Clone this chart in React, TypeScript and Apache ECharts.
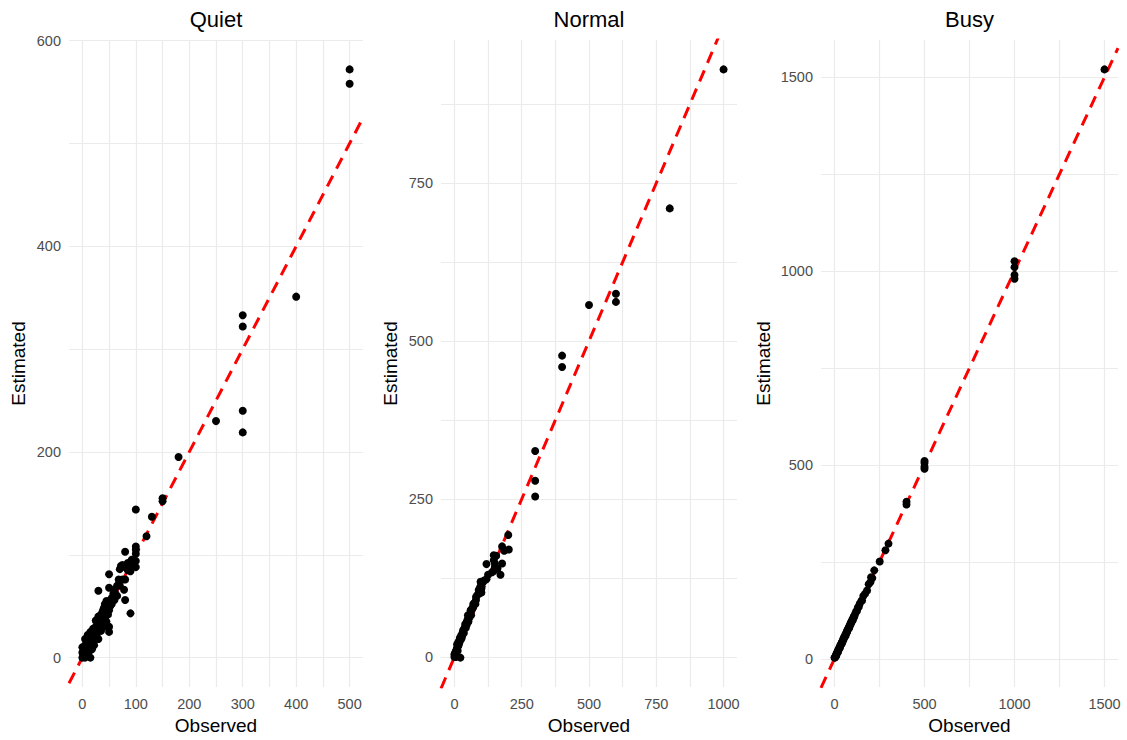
import React, { useEffect, useRef } from "react";
import * as echarts from "echarts";

const panelTitles = ["Quiet", "Normal", "Busy"];

const quietObserved = [0, 0, 0, 2, 3, 5, 5, 5, 6, 8, 8, 10, 10, 10, 12, 12, 15, 15, 15, 18, 18, 20, 20, 20, 22, 22, 25, 25, 25, 27, 28, 30, 30, 30, 30, 32, 33, 35, 35, 35, 38, 38, 40, 40, 40, 42, 42, 45, 45, 45, 48, 48, 50, 50, 50, 50, 50, 50, 52, 55, 55, 58, 60, 60, 62, 65, 65, 68, 70, 70, 72, 75, 75, 78, 80, 80, 80, 80, 85, 85, 90, 90, 92, 95, 100, 100, 100, 100, 100, 100, 120, 130, 150, 150, 180, 250, 300, 300, 300, 300, 400, 500, 500];
const quietEstimated = [0, 5, 10, 2, 8, 0, 12, 18, 4, 8, 15, 2, 10, 22, 18, 6, 0, 12, 25, 20, 8, 15, 28, 22, 12, 26, 20, 30, 36, 23, 26, 18, 32, 40, 65, 28, 36, 35, 42, 26, 32, 45, 40, 30, 48, 38, 52, 45, 35, 55, 30, 42, 55, 46, 81, 68, 30, 25, 50, 58, 52, 62, 56, 66, 62, 70, 60, 76, 86, 70, 89, 76, 90, 66, 56, 103, 88, 76, 85, 92, 43, 84, 95, 90, 105, 101, 94, 88, 144, 108, 118, 137, 155, 152, 195, 230, 333, 322, 240, 219, 351, 572, 558];

const normalObserved = [0, 0, 2, 3, 5, 5, 8, 10, 10, 12, 15, 15, 18, 20, 20, 22, 25, 25, 28, 30, 30, 32, 35, 35, 38, 40, 40, 42, 45, 45, 48, 50, 50, 52, 55, 55, 58, 60, 60, 62, 65, 68, 70, 70, 72, 75, 78, 80, 80, 85, 90, 90, 95, 97, 100, 100, 100, 105, 110, 119, 119, 125, 140, 146, 146, 146, 150, 150, 155, 160, 171, 177, 177, 185, 200, 202, 300, 300, 300, 400, 400, 500, 600, 600, 800, 1000];
const normalEstimated = [0, 4, 6, 2, 9, 0, 12, 15, 20, 10, 18, 24, 22, 26, 30, -1, 28, 34, 32, 38, 35, 42, 44, 38, 46, 48, 52, 46, 55, 50, 58, 60, 66, 56, 65, 62, 68, 70, 74, 66, 76, 78, 80, 84, 84, 86, 84, 90, 95, 98, 100, 106, 110, 119, 102, 108, 115, 118, 121, 123, 147, 130, 134, 136, 153, 161, 142, 148, 160, 140, 130, 148, 175, 168, 193, 170, 326, 279, 254, 477, 459, 557, 575, 562, 710, 930];

const busyObserved = [0, 2, 5, 8, 10, 12, 15, 18, 20, 22, 25, 28, 30, 32, 35, 38, 40, 42, 45, 48, 50, 52, 55, 58, 60, 62, 65, 68, 70, 72, 75, 78, 80, 82, 85, 88, 90, 92, 95, 98, 100, 102, 105, 108, 110, 115, 120, 125, 130, 135, 140, 150, 153, 160, 170, 181, 190, 200, 203, 210, 221, 251, 283, 300, 400, 400, 500, 500, 500, 500, 1000, 1000, 1000, 1000, 1500];
const busyEstimated = [3, 3, 5, 10, 8, 14, 15, 20, 18, 24, 25, 30, 28, 34, 36, 38, 42, 40, 46, 50, 49, 54, 56, 58, 62, 60, 66, 70, 69, 74, 76, 78, 82, 80, 86, 90, 89, 94, 96, 98, 102, 100, 106, 110, 109, 116, 122, 124, 132, 134, 142, 150, 150, 162, 168, 176, 192, 198, 210, 208, 228, 251, 280, 297, 405, 398, 510, 505, 495, 490, 1025, 1010, 990, 980, 1520];

const quietXTicks = [0, 100, 200, 300, 400, 500];
const quietXGrid = [0, 50, 100, 150, 200, 250, 300, 350, 400, 450, 500];
const quietYTicks = [0, 200, 400, 600];
const quietYGrid = [0, 100, 200, 300, 400, 500, 600];

const normalXTicks = [0, 250, 500, 750, 1000];
const normalXGrid = [0, 125, 250, 375, 500, 625, 750, 875, 1000];
const normalYTicks = [0, 250, 500, 750];
const normalYGrid = [0, 125, 250, 375, 500, 625, 750, 875];

const busyXTicks = [0, 500, 1000, 1500];
const busyXGrid = [0, 250, 500, 750, 1000, 1250, 1500];
const busyYTicks = [0, 500, 1000, 1500];
const busyYGrid = [0, 250, 500, 750, 1000, 1250, 1500];

const panels = [
  { obs: quietObserved, est: quietEstimated, xTicks: quietXTicks, xGrid: quietXGrid, yTicks: quietYTicks, yGrid: quietYGrid },
  { obs: normalObserved, est: normalEstimated, xTicks: normalXTicks, xGrid: normalXGrid, yTicks: normalYTicks, yGrid: normalYGrid },
  { obs: busyObserved, est: busyEstimated, xTicks: busyXTicks, xGrid: busyXGrid, yTicks: busyYTicks, yGrid: busyYGrid },
];

const FONT = "'Liberation Sans', Arial, Helvetica, sans-serif";
const gridLefts = [69, 441, 821];
const gridWidths = [294, 296, 297];
const yNameGaps = [41, 41, 48];

function expand(vals: number[]) {
  const lo = Math.min(...vals);
  const hi = Math.max(...vals);
  const pad = (hi - lo) * 0.05;
  return [lo - pad, hi + pad];
}

export default function App() {
  const ref = useRef<HTMLDivElement>(null);
  useEffect(() => {
    document.body.style.margin = "0";
    const chart = echarts.init(ref.current!, null, { renderer: "svg" });
    const grid: any[] = [];
    const xAxis: any[] = [];
    const yAxis: any[] = [];
    const series: any[] = [];
    const graphic: any[] = [];
    const fmt = (v: number) => String(v);
    panels.forEach((p, i) => {
      const [x0, x1] = expand(p.obs);
      const [y0, y1] = expand(p.est);
      grid.push({ left: gridLefts[i], width: gridWidths[i], top: 40, height: 647 });
      const gridLine = { show: true, lineStyle: { color: "#ebebeb", width: 1.2 } };
      xAxis.push({
        type: "value", gridIndex: i, min: x0, max: x1,
        axisLine: { show: false },
        axisTick: { show: false, customValues: p.xGrid },
        splitLine: gridLine,
        axisLabel: { customValues: p.xTicks, formatter: fmt, color: "#4d4d4d", fontSize: 14.5, fontFamily: FONT, margin: 9 },
        name: "Observed", nameLocation: "middle", nameGap: 23,
        nameTextStyle: { color: "#000", fontSize: 19, fontFamily: FONT },
      });
      yAxis.push({
        type: "value", gridIndex: i, min: y0, max: y1,
        axisLine: { show: false },
        axisTick: { show: false, customValues: p.yGrid },
        splitLine: gridLine,
        axisLabel: { customValues: p.yTicks, formatter: fmt, color: "#4d4d4d", fontSize: 14.5, fontFamily: FONT, margin: 8 },
        name: "Estimated", nameLocation: "middle", nameGap: yNameGaps[i],
        nameTextStyle: { color: "#000", fontSize: 19, fontFamily: FONT },
      });
      series.push({
        type: "line", xAxisIndex: i, yAxisIndex: i, z: 2, clip: true,
        symbol: "none", silent: true,
        data: [[x0, x0], [x1, x1]],
        lineStyle: { color: "#ff0000", width: 3, type: [12, 8] },
      });
      series.push({
        type: "scatter", xAxisIndex: i, yAxisIndex: i, z: 3,
        symbolSize: 8,
        itemStyle: { color: "#000", opacity: 1 },
        data: p.obs.map((o, k) => [o, p.est[k]]),
      });
      graphic.push({
        type: "text", x: gridLefts[i] + gridWidths[i] / 2, y: 19,
        style: { text: panelTitles[i], align: "center", verticalAlign: "middle", fontSize: 22, fontFamily: FONT, fill: "#000" },
      });
    });
    chart.setOption({ animation: false, backgroundColor: "#fff", grid, xAxis, yAxis, series, graphic });
    return () => chart.dispose();
  }, []);
  return <div ref={ref} style={{ width: 1127, height: 740 }} />;
}
